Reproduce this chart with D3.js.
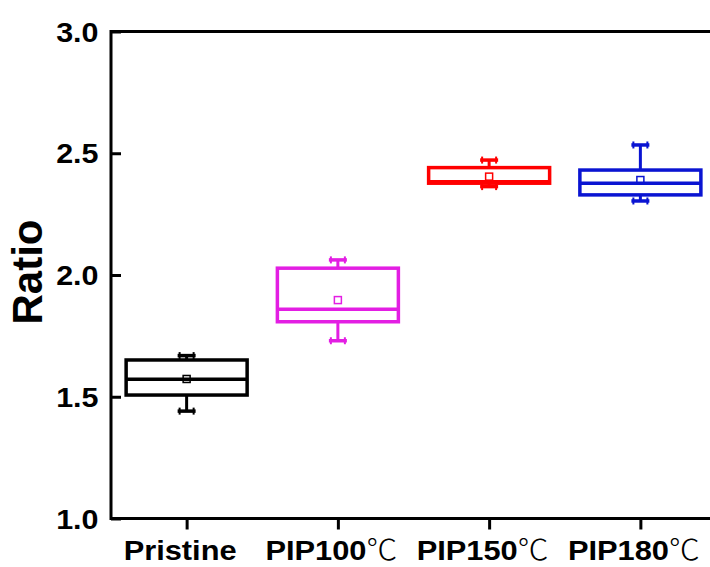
<!DOCTYPE html>
<html>
<head>
<meta charset="utf-8">
<script src="https://cdn.jsdelivr.net/npm/d3@7"></script>
<style>
  html, body { margin: 0; padding: 0; background: #fff; }
  svg { display: block; }
  .lbl { font-family: "Liberation Sans", Arial, sans-serif; font-weight: bold; fill: #000; }
  .deg { font-family: "Noto Sans CJK SC", "DejaVu Sans", sans-serif; font-weight: 300; }
</style>
</head>
<body>
<svg id="chart" width="710" height="567"></svg>
<script>
// Box statistics per sample
const categories   = ["Pristine", "PIP100℃", "PIP150℃", "PIP180℃"];
const whiskerLow   = [1.441, 1.730, 2.363, 2.304];
const q1           = [1.507, 1.808, 2.377, 2.329];
const median       = [1.572, 1.859, 2.383, 2.377];
const q3           = [1.651, 2.028, 2.441, 2.431];
const whiskerHigh  = [1.669, 2.062, 2.472, 2.534];
const means        = [1.573, 1.897, 2.404, 2.390];
const boxColors    = ["#000000", "#e31ee3", "#ff0000", "#0a14d2"];
const yTicks       = [1.0, 1.5, 2.0, 2.5, 3.0];

const rows = categories.map((c, i) => ({
  cat: c, lo: whiskerLow[i], q1: q1[i], med: median[i], q3: q3[i],
  hi: whiskerHigh[i], mean: means[i], color: boxColors[i]
}));

const svg = d3.select("#chart");
const plot = { left: 111, top: 31.5, right: 716, bottom: 518.5 };

// one band per sample, centres half a step in from each edge
const x = d3.scalePoint().domain(categories)
  .range([plot.left, plot.right]).padding(0.5);
const step = x.step();
const boxW = step * 0.8;

const y = d3.scaleLinear().domain([1.0, 3.0]).range([plot.bottom, plot.top]);

// frame
svg.append("path")
  .attr("fill", "none").attr("stroke", "#000").attr("stroke-width", 3)
  .attr("d", `M${plot.right},${plot.top}H${plot.left}V${plot.bottom}H${plot.right}`);

// y axis, ticks pointing inward
const yAxis = svg.append("g")
  .attr("transform", `translate(${plot.left},0)`)
  .call(d3.axisLeft(y).tickValues(yTicks).tickFormat(d3.format(".1f"))
        .tickSizeInner(-10).tickSizeOuter(0));
yAxis.select(".domain").remove();
yAxis.selectAll(".tick line").attr("stroke", "#000").attr("stroke-width", 3);
yAxis.selectAll(".tick text").attr("class", "lbl").attr("font-size", 27)
  .attr("x", -11).attr("dy", "0.36em")
  .attr("transform", "scale(1.13,1)");

// x axis, ticks pointing outward
const xAxis = svg.append("g")
  .attr("transform", `translate(0,${plot.bottom})`)
  .call(d3.axisBottom(x).tickSizeInner(11).tickSizeOuter(0));
xAxis.select(".domain").remove();
xAxis.selectAll(".tick line").attr("stroke", "#000").attr("stroke-width", 3);
xAxis.selectAll(".tick text").each(function (d) {
  const t = d3.select(this).text("")
    .attr("class", "lbl").attr("font-size", 28)
    .attr("y", 42).attr("dy", null)
    .attr("transform", "translate(-7,0) scale(1.1,1)");
  const m = d.match(/^(.*?)(℃?)$/);
  t.append("tspan").text(m[1]);
  if (m[2]) t.append("tspan").attr("class", "deg").text(m[2]);
});

// y title
svg.append("text").attr("class", "lbl")
  .attr("transform", `translate(42,272) rotate(-90)`)
  .attr("text-anchor", "middle").attr("font-size", 42).text("Ratio");

// boxes
const g = svg.append("g").selectAll("g").data(rows).join("g")
  .attr("stroke", d => d.color).attr("fill", "none");

// whisker stems
g.append("line").attr("x1", d => x(d.cat)).attr("x2", d => x(d.cat))
  .attr("y1", d => y(d.q3)).attr("y2", d => y(d.hi)).attr("stroke-width", 3);
g.append("line").attr("x1", d => x(d.cat)).attr("x2", d => x(d.cat))
  .attr("y1", d => y(d.q1)).attr("y2", d => y(d.lo)).attr("stroke-width", 3);

// whisker caps with flared ends
const capW = 18;
["lo", "hi"].forEach(k => {
  g.append("line")
    .attr("x1", d => x(d.cat) - capW / 2).attr("x2", d => x(d.cat) + capW / 2)
    .attr("y1", d => y(d[k])).attr("y2", d => y(d[k])).attr("stroke-width", 3.5);
  [-1, 1].forEach(s => {
    g.append("line")
      .attr("x1", d => x(d.cat) + s * (capW / 2 - 2)).attr("x2", d => x(d.cat) + s * (capW / 2 - 2))
      .attr("y1", d => y(d[k]) - 3.5).attr("y2", d => y(d[k]) + 3.5).attr("stroke-width", 2);
  });
});

// box body
g.append("rect")
  .attr("x", d => x(d.cat) - boxW / 2).attr("width", boxW)
  .attr("y", d => y(d.q3)).attr("height", d => y(d.q1) - y(d.q3))
  .attr("stroke-width", 3.5);

// median
g.append("line")
  .attr("x1", d => x(d.cat) - boxW / 2).attr("x2", d => x(d.cat) + boxW / 2)
  .attr("y1", d => y(d.med)).attr("y2", d => y(d.med)).attr("stroke-width", 3.5);

// mean marker (hollow square)
g.append("rect")
  .attr("x", d => x(d.cat) - 3.5).attr("y", d => y(d.mean) - 3.5)
  .attr("width", 7).attr("height", 7).attr("stroke-width", 1.5);
</script>
</body>
</html>
